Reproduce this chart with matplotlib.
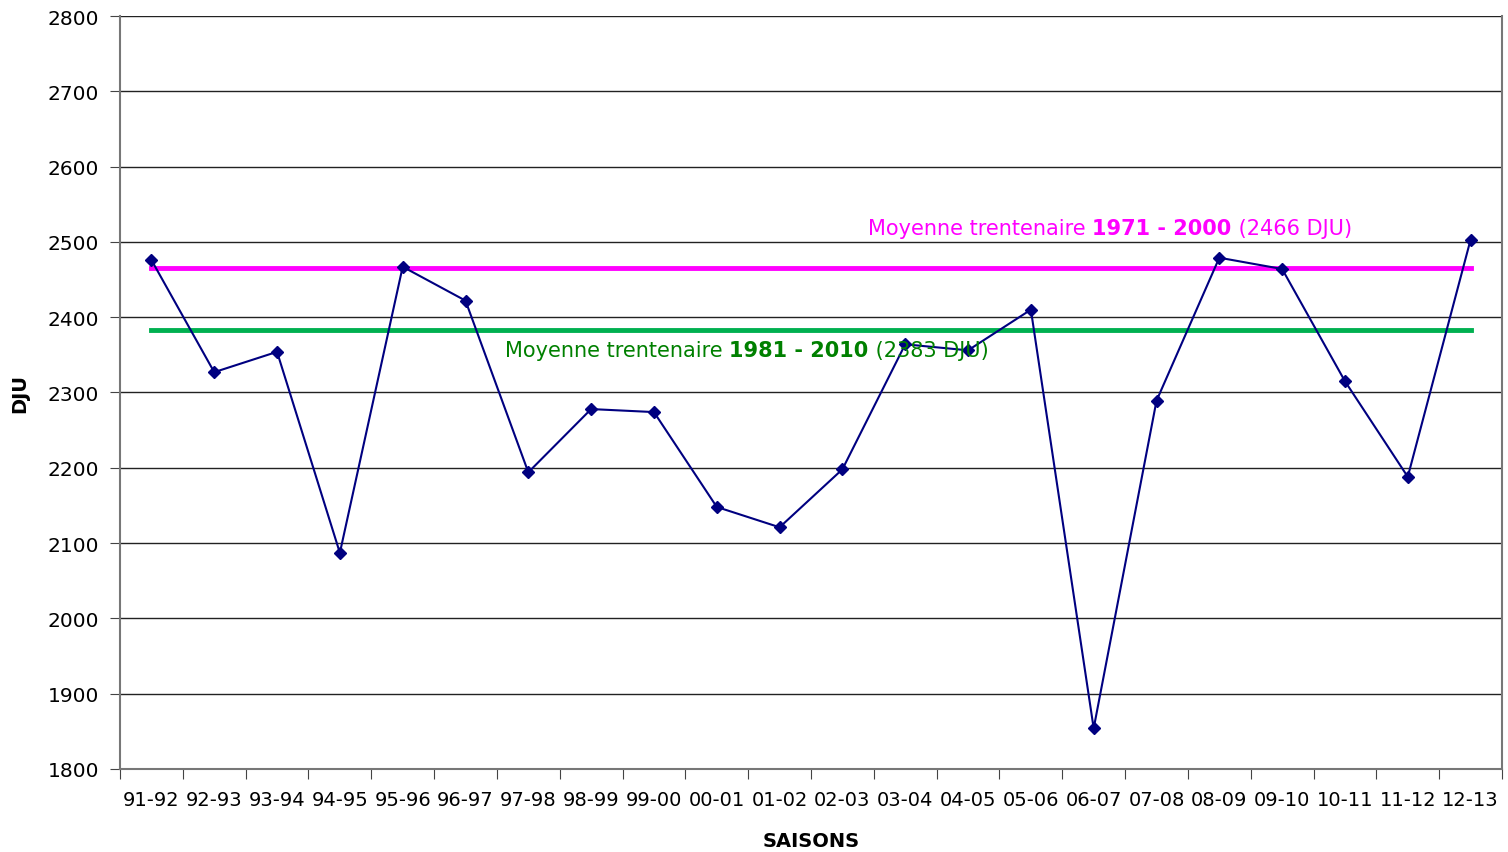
import matplotlib
matplotlib.use("Agg")
import matplotlib.pyplot as plt

seasons = ["91-92", "92-93", "93-94", "94-95", "95-96", "96-97", "97-98", "98-99",
           "99-00", "00-01", "01-02", "02-03", "03-04", "04-05", "05-06", "06-07",
           "07-08", "08-09", "09-10", "10-11", "11-12", "12-13"]
dju = [2476, 2327, 2354, 2087, 2467, 2422, 2194, 2278, 2274, 2148, 2121, 2198,
       2364, 2356, 2410, 1854, 2289, 2479, 2464, 2315, 2188, 2503]
mean_1971_2000 = 2466
mean_1981_2010 = 2383

plt.rcParams['font.family'] = ['DejaVu Sans']
fig = plt.figure(figsize=(15.08, 8.53), dpi=100)
ax = fig.add_axes([120/1508, 1 - 770/853, (1502-120)/1508, (770-17)/853])

x = list(range(len(seasons)))
ax.plot(x, dju, color='#000080', lw=1.5, marker='D', markersize=6, zorder=4)
ax.plot([x[0], x[-1]], [mean_1971_2000]*2, color='#FF00FF', lw=3.5, zorder=3)
ax.plot([x[0], x[-1]], [mean_1981_2010]*2, color='#00B050', lw=3.5, zorder=3)

ax.set_xlim(-0.5, len(seasons) - 0.5)
ax.set_ylim(1800, 2800)
ax.set_yticks(range(1800, 2801, 100))
ax.set_xticks([i - 0.5 for i in range(len(seasons) + 1)], minor=False)
ax.set_xticklabels([])
ax.set_xticks(x, minor=True)
ax.set_xticklabels(seasons, minor=True, fontsize=14)
ax.tick_params(axis='x', which='minor', length=0, pad=15)
ax.tick_params(axis='x', which='major', length=7, direction='out', color='#444444')
ax.tick_params(axis='y', length=7, direction='out', labelsize=14.5, color='#444444', pad=8)
ax.yaxis.grid(True, color='#222222', lw=1)
ax.set_axisbelow(True)
for s in ['left', 'right', 'bottom']:
    ax.spines[s].set_color('#777777')
    ax.spines[s].set_linewidth(1.5)
ax.spines['top'].set_visible(False)

ax.set_ylabel('DJU', fontsize=14, fontweight='bold', labelpad=13)
ax.set_xlabel('SAISONS', fontsize=14, fontweight='bold', labelpad=16)

def mixed(xpos, ypos, parts, color):
    t = ax.text(xpos, ypos, parts[0][0], color=color, fontsize=15,
                fontweight=parts[0][1], va='center', ha='left', zorder=5)
    for txt, w in parts[1:]:
        t = ax.annotate(txt, xy=(1, 0), xycoords=t, va='bottom', ha='left',
                        color=color, fontsize=15, fontweight=w, zorder=5)

mixed(11.41, 2518, [("Moyenne trentenaire ", 'normal'), ("1971 - 2000", 'bold'),
                    (" (2466 DJU)", 'normal')], '#FF00FF')
mixed(5.63, 2356, [("Moyenne trentenaire ", 'normal'), ("1981 - 2010", 'bold'),
                   (" (2383 DJU)", 'normal')], '#008000')

fig.savefig('out.png', dpi=100)
